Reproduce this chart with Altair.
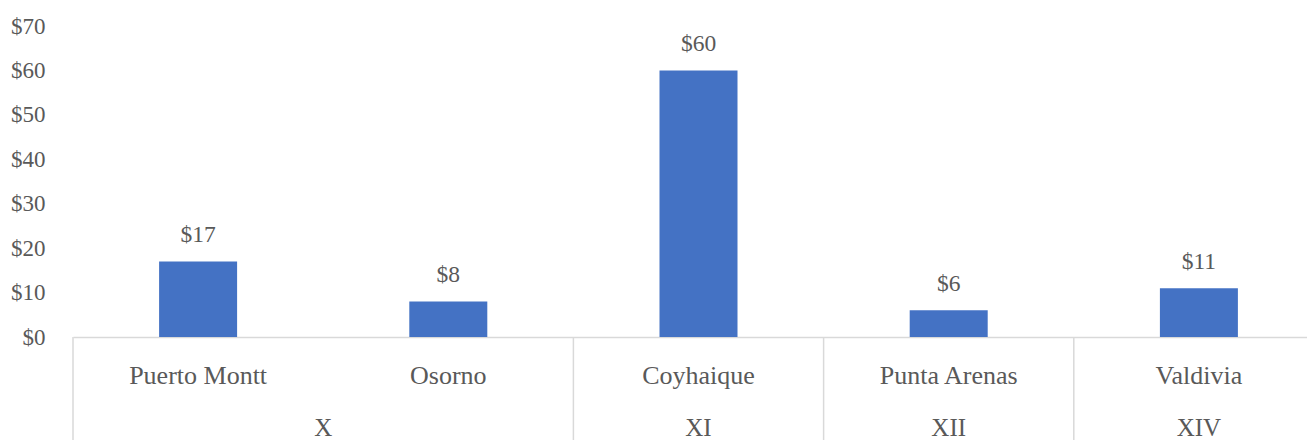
import altair as alt
import pandas as pd

cities = ["Puerto Montt", "Osorno", "Coyhaique", "Punta Arenas", "Valdivia"]
regions = ["X", "X", "XI", "XII", "XIV"]
values = [17, 8, 60, 6, 11]
y_ticks = [0, 10, 20, 30, 40, 50, 60, 70]

df = pd.DataFrame({"city": cities, "region": regions, "value": values,
                   "pos": list(range(len(cities)))})
grp = df.groupby("region", sort=False)["pos"].agg(["min", "max"]).reset_index()
grp["center"] = (grp["min"] + grp["max"]) / 2
# group separators (the closing one of the last group lies beyond the right edge)
dividers = pd.DataFrame({"pos": list(grp["min"] - 0.5)})

FONT = "'Liberation Serif', 'Times New Roman', Times, serif"
GRAY = "#595959"
LINE = "#d9d9d9"
W, H = 1234, 311
BOTTOM = 103
SLOT_PX = 250.2  # pixel width of one category slot (plot runs past the right edge)

xscale = alt.Scale(domain=[-0.5, -0.5 + W / SLOT_PX], nice=False, zero=False, padding=0)
yscale = alt.Scale(domain=[0, 70], nice=False)

base = alt.Chart(df)

bars = base.mark_bar(size=78, color="#4472C4").encode(
    x=alt.X("pos:Q", scale=xscale, title=None,
            axis=alt.Axis(labels=False, ticks=False, grid=False,
                          domainColor=LINE, domainWidth=1.5)),
    y=alt.Y("value:Q", scale=yscale, title=None,
            axis=alt.Axis(values=y_ticks, labelExpr="'$' + datum.value", grid=False,
                          ticks=False, domain=False, labelPadding=28,
                          labelFont=FONT, labelFontSize=23, labelColor=GRAY)),
)

labels = base.mark_text(font=FONT, fontSize=23.5, color=GRAY, baseline="middle", dy=-26).encode(
    x=alt.X("pos:Q", scale=xscale, title=None),
    y=alt.Y("value:Q", scale=yscale, title=None),
    text=alt.Text("value:Q", format="$,.0f"),
)

city_text = base.mark_text(font=FONT, fontSize=26, color=GRAY, baseline="middle").encode(
    x=alt.X("pos:Q", scale=xscale, title=None),
    y=alt.value(H + 39),
    text="city:N",
)

region_text = alt.Chart(grp).mark_text(font=FONT, fontSize=25, color=GRAY, baseline="middle").encode(
    x=alt.X("center:Q", scale=xscale, title=None),
    y=alt.value(H + 91),
    text="region:N",
)

div_rules = alt.Chart(dividers).mark_rule(color=LINE, strokeWidth=1.5).encode(
    x=alt.X("pos:Q", scale=xscale, title=None),
    y=alt.value(H),
    y2=alt.value(H + BOTTOM),
)

chart = alt.layer(bars, labels, city_text, region_text, div_rules).properties(
    width=W, height=H,
    autosize=alt.AutoSizeParams(type="none"),
    padding={"left": 65, "top": 18, "right": 0, "bottom": BOTTOM},
    background="white",
).configure_view(stroke=None)

chart.save("out.html", embed_options={"renderer": "svg", "actions": False})
